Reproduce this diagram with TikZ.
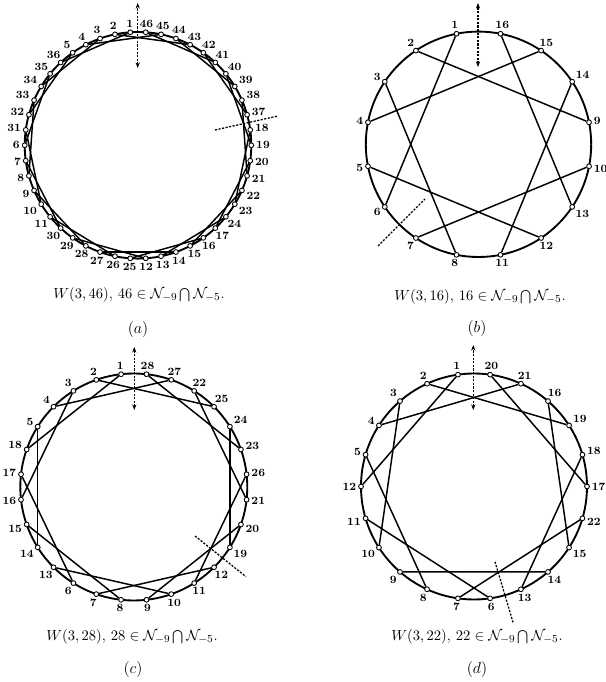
\documentclass[tikz,border=0pt]{standalone}
\usetikzlibrary{arrows.meta,backgrounds}
\newcommand\wgraph[6]{% #1 prefix, #2 cx, #3 cy, #4 r, #5 n, #6 labels
  \begin{scope}[shift={(#2,#3)}]
  \foreach \lab [count=\k from 0] in {#6} {
    \pgfmathsetmacro\ang{90+180/#5+\k*360/#5}
    \pgfmathsetmacro\anc{mod(\ang+180,360)}
    \node[vtx] (#1\k) at (\ang:#4) {};
    \node[lbl,anchor=\anc] (#1l\k) at (\ang:{#4+4}) {\lab};
  }
  \begin{scope}[on background layer]
    \draw[ring] (0,0) circle (#4);
    \pgfmathtruncatemacro\last{#5-2}
    \foreach \k in {0,2,...,\last} {
      \pgfmathtruncatemacro\j{mod(\k+5,#5)}
      \draw[chord] (#1\k) -- (#1\j);
    }
  \end{scope}
  \end{scope}
}
\begin{document}
\begin{tikzpicture}[x=0.75pt,y=0.75pt,
  ring/.style={line width=1.4pt},
  chord/.style={line width=1.1pt},
  vtx/.style={circle,draw,fill=white,line width=0.65pt,inner sep=0pt,minimum size=3.6pt},
  lbl/.style={inner sep=0.5pt,font=\fontsize{8.3}{9}\selectfont\bfseries},
  captxt/.style={font=\fontsize{11.3}{13}\selectfont},
  subtxt/.style={font=\fontsize{12.5}{14}\selectfont},
  cutline/.style={line width=0.95pt,dash pattern=on 1.6pt off 1.1pt},
  dirarrow/.style={line width=0.95pt,dash pattern=on 1.6pt off 1.1pt,{Stealth[length=4.2pt,width=3.2pt]}-{Stealth[length=4.2pt,width=3.2pt]}}
]
\useasboundingbox (0,0) rectangle (606,682);

\wgraph{a}{138}{536.7}{113.3}{46}{1,2,3,4,5,36,35,34,33,32,31,6,7,8,9,10,11,30,29,28,27,26,25,12,13,14,15,16,17,24,23,22,21,20,19,18,37,38,39,40,41,42,43,44,45,46}
\wgraph{b}{478.5}{537.7}{112.7}{16}{1,2,3,4,5,6,7,8,11,12,13,10,9,14,15,16}
\wgraph{c}{133.8}{195}{113.5}{28}{1,2,3,4,5,18,17,16,15,14,13,6,7,8,9,10,11,12,19,20,21,26,23,24,25,22,27,28}
\wgraph{d}{474}{195.5}{113}{22}{1,2,3,4,5,12,11,10,9,8,7,6,13,14,15,22,17,18,19,16,21,20}

% direction arrows
\coordinate (aT) at (137.7,679); \coordinate (aB) at (137.7,614);
\coordinate (bT) at (478,679);   \coordinate (bB) at (478,615);
\coordinate (cT) at (134.3,335); \coordinate (cB) at (134.3,272);
\coordinate (dT) at (473.3,337); \coordinate (dB) at (473.3,272);
\draw[dirarrow] (aB) -- (aT);
\draw[dirarrow] (bB) -- (bT);
\draw[dirarrow] (cB) -- (cT);
\draw[dirarrow] (dB) -- (dT);

% cut lines
\coordinate (aC1) at (215,552); \coordinate (aC2) at (278,566);
\coordinate (bC1) at (378,436); \coordinate (bC2) at (425,483);
\coordinate (cC1) at (195,146); \coordinate (cC2) at (246,105.3);
\coordinate (dC1) at (495,120.3); \coordinate (dC2) at (513.3,58.7);
\draw[cutline] (aC1) -- (aC2);
\draw[cutline] (bC1) -- (bC2);
\draw[cutline] (cC1) -- (cC2);
\draw[cutline] (dC1) -- (dC2);

% captions
\node[captxt] (capa) at (139,387) {$W(3,46)$, $46\in\mathcal{N}_{-9}\bigcap\mathcal{N}_{-5}$.};
\node[captxt] (capb) at (480,385) {$W(3,16)$, $16\in\mathcal{N}_{-9}\bigcap\mathcal{N}_{-5}$.};
\node[captxt] (capc) at (132,45) {$W(3,28)$, $28\in\mathcal{N}_{-9}\bigcap\mathcal{N}_{-5}$.};
\node[captxt] (capd) at (477,45) {$W(3,22)$, $22\in\mathcal{N}_{-9}\bigcap\mathcal{N}_{-5}$.};
\node[subtxt] (suba) at (138,352) {$(a)$};
\node[subtxt] (subb) at (477,353) {$(b)$};
\node[subtxt] (subc) at (133,12) {$(c)$};
\node[subtxt] (subd) at (477,12) {$(d)$};
\end{tikzpicture}
\end{document}
